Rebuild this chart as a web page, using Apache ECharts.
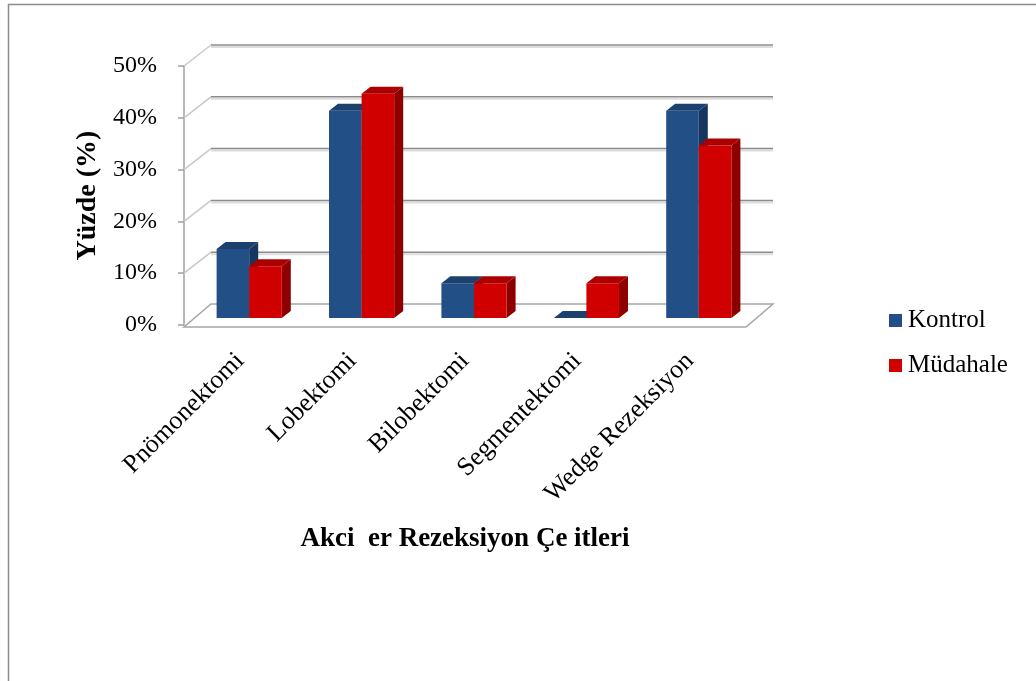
<!DOCTYPE html>
<html>
<head>
<meta charset="utf-8">
<script src="https://cdn.jsdelivr.net/npm/echarts@6/dist/echarts.min.js"></script>
<style>
  html, body { margin: 0; padding: 0; background: #fff; }
  #chart { width: 1036px; height: 681px; }
</style>
</head>
<body>
<div id="chart"></div>
<script>
// veriler
const categories = ['Pnömonektomi', 'Lobektomi', 'Bilobektomi', 'Segmentektomi', 'Wedge Rezeksiyon'];
const kontrol = [13.3, 40, 6.7, 0, 40];
const mudahale = [10, 43.3, 6.7, 6.7, 33.3];
const yTicks = [0, 10, 20, 30, 40, 50];
const seriesNames = ['Kontrol', 'Müdahale'];

const FONT = 'Liberation Serif';
// derinlik (arka duvar) kaydirmasi
const DX = 27, DY = -21;
// sutun derinligi
const BDX = 9, BDY = -7;

const barColors = [
  { front: '#234F87', side: '#17365F', top: '#1C416F' },
  { front: '#D00000', side: '#8E0000', top: '#AC0000' }
];

const chart = echarts.init(document.getElementById('chart'));

// arka duvar cizgileri + zemin
const renderWall = (params, api) => {
  const cs = params.coordSys;
  const v = api.value(1);
  const y = api.coord([0, v])[1];
  const x0 = cs.x, x1 = cs.x + cs.width;
  const children = [];
  if (v === 0) {
    children.push({
      type: 'polygon',
      shape: { points: [[x0, y + 2], [x1, y + 2], [x1 + DX, y + DY], [x0 + DX, y + DY]] },
      style: { fill: '#fff', stroke: '#A6A6A6', lineWidth: 1.5 }
    });
  } else {
    children.push({
      type: 'line',
      shape: { x1: x0, y1: y, x2: x0 + DX, y2: y + DY },
      style: { stroke: '#C8C8C8', lineWidth: 1.5 }
    });
    children.push({
      type: 'line',
      shape: { x1: x0 + DX, y1: y + DY + 2, x2: x1 + DX, y2: y + DY + 2 },
      style: { stroke: '#DDDDDD', lineWidth: 2 }
    });
    children.push({
      type: 'line',
      shape: { x1: x0 + DX, y1: y + DY, x2: x1 + DX, y2: y + DY },
      style: { stroke: '#8C8C8C', lineWidth: 1.5 }
    });
  }
  return { type: 'group', children: children };
};

// 3B sutun
const makeBarRenderer = (s) => (params, api) => {
  const i = api.value(0);
  const top = api.coord([i, api.value(1)]);
  const base = api.coord([i, 0]);
  const band = api.size([1, 0])[0];
  const bw = band * 0.29;
  const x = top[0] + (s === 0 ? -bw : 0);
  const yt = top[1], yb = base[1];
  const c = barColors[s];
  return {
    type: 'group',
    children: [
      {
        type: 'polygon',
        shape: { points: [[x + bw, yt], [x + bw + BDX, yt + BDY], [x + bw + BDX, yb + BDY], [x + bw, yb]] },
        style: { fill: c.side }
      },
      {
        type: 'rect',
        shape: { x: x, y: yt, width: bw, height: yb - yt },
        style: { fill: c.front }
      },
      {
        type: 'polygon',
        shape: { points: [[x, yt], [x + bw, yt], [x + bw + BDX, yt + BDY], [x + BDX, yt + BDY]] },
        style: { fill: c.top }
      }
    ]
  };
};

const option = {
  backgroundColor: '#fff',
  animation: false,
  graphic: [{
    type: 'rect',
    silent: true,
    z: -10,
    shape: { x: 8.5, y: 4.5, width: 1200, height: 900 },
    style: { fill: 'none', stroke: '#8C8C8C', lineWidth: 1.5 }
  }],
  legend: {
    orient: 'vertical',
    left: 884,
    top: 303,
    itemWidth: 13,
    itemHeight: 13,
    itemGap: 20,
    icon: 'rect',
    data: seriesNames,
    textStyle: { fontFamily: FONT, fontSize: 25, color: '#000', padding: [6, 0, 0, 1] }
  },
  grid: [
    { left: 184, top: 66, width: 562, height: 259 },
    { left: 193, top: 59, width: 562, height: 259 }
  ],
  xAxis: [
    {
      type: 'category',
      gridIndex: 0,
      data: categories,
      axisLine: { show: false },
      axisTick: { show: false },
      axisLabel: { rotate: 45, margin: 32, fontFamily: FONT, fontSize: 26, color: '#000', interval: 0 },
      name: 'Akci  er Rezeksiyon Çe itleri',
      nameLocation: 'middle',
      nameGap: 201,
      nameTextStyle: { fontFamily: FONT, fontSize: 27, fontWeight: 'bold', color: '#000' }
    },
    {
      type: 'category',
      gridIndex: 1,
      data: categories,
      show: false
    }
  ],
  yAxis: [
    {
      type: 'value',
      gridIndex: 0,
      min: 0,
      max: 50,
      interval: 10,
      axisLine: { show: true, lineStyle: { color: '#A0A0A0', width: 1.5 } },
      axisTick: { show: true, length: 6, lineStyle: { color: '#A0A0A0', width: 1.5 } },
      splitLine: { show: false },
      axisLabel: { formatter: '{value}%', margin: 27, fontFamily: FONT, fontSize: 24, color: '#000' },
      name: 'Yüzde (%)',
      nameLocation: 'middle',
      nameGap: 80,
      nameTextStyle: { fontFamily: FONT, fontSize: 28, fontWeight: 'bold', color: '#000' }
    },
    {
      type: 'value',
      gridIndex: 1,
      min: 0,
      max: 50,
      interval: 10,
      show: false
    }
  ],
  series: [
    {
      type: 'custom',
      name: 'wall',
      xAxisIndex: 0,
      yAxisIndex: 0,
      silent: true,
      z: 1,
      renderItem: renderWall,
      data: yTicks.map(v => [0, v])
    },
    {
      type: 'custom',
      name: seriesNames[0],
      xAxisIndex: 1,
      yAxisIndex: 1,
      z: 3,
      itemStyle: { color: barColors[0].front },
      renderItem: makeBarRenderer(0),
      data: kontrol.map((v, i) => [i, v])
    },
    {
      type: 'custom',
      name: seriesNames[1],
      xAxisIndex: 1,
      yAxisIndex: 1,
      z: 4,
      itemStyle: { color: barColors[1].front },
      renderItem: makeBarRenderer(1),
      data: mudahale.map((v, i) => [i, v])
    }
  ]
};

chart.setOption(option);
window.addEventListener('resize', () => chart.resize());
</script>
</body>
</html>
